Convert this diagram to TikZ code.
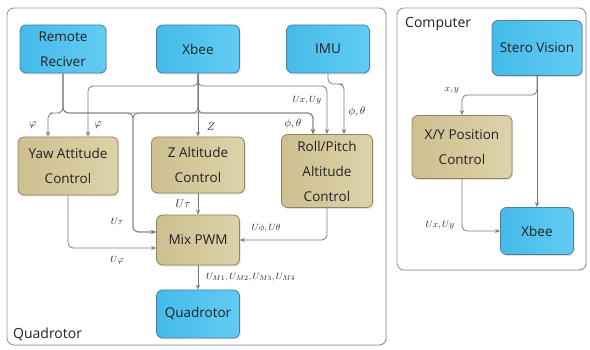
\documentclass[tikz,border=0pt]{standalone}
\usepackage{fontspec}
\setmainfont{Open Sans}
\usetikzlibrary{arrows.meta,shadows}
\definecolor{blueA}{HTML}{45BAE9}
\definecolor{blueB}{HTML}{62CCF3}
\definecolor{blueD}{HTML}{4D7F96}
\definecolor{tanA}{HTML}{CDBF90}
\definecolor{tanB}{HTML}{DDD2A9}
\definecolor{tanD}{HTML}{8E8562}
\definecolor{lineC}{HTML}{7A7A7A}
\definecolor{contC}{HTML}{9A9A9A}
\definecolor{txtC}{HTML}{222222}
\begin{document}
\begin{tikzpicture}[x=1pt,y=-1pt,
  boxtext/.style={font=\fontsize{13.5}{25}\selectfont, text=txtC, align=center, inner sep=0pt},
  bluebox/.style={boxtext, draw=blueD, line width=0.8pt, rounded corners=6pt,
    left color=blueA, right color=blueB,
    drop shadow={opacity=0.25, shadow xshift=1.2pt, shadow yshift=-1.5pt}},
  tanbox/.style={boxtext, draw=tanD, line width=0.8pt, rounded corners=6pt,
    left color=tanA, right color=tanB,
    drop shadow={opacity=0.25, shadow xshift=1.2pt, shadow yshift=-1.5pt}},
  container/.style={draw=contC, line width=0.9pt, rounded corners=7pt, fill=white,
    drop shadow={opacity=0.2, shadow xshift=1pt, shadow yshift=-1pt}},
  conlabel/.style={font=\fontsize{14}{16}\selectfont, text=txtC, inner sep=0pt},
  conn/.style={draw=lineC, line width=0.8pt, rounded corners=5pt,
    -{Stealth[length=5pt,width=4pt]}},
  lbl/.style={font=\fontsize{10.5}{11}\selectfont, text=txtC, inner sep=0pt},
  slbl/.style={font=\fontsize{9.5}{10}\selectfont, text=txtC, inner sep=0pt}]
\useasboundingbox (0,0) rectangle (590,350);

% containers
\node[container, minimum width=379pt, minimum height=337pt] (qcont) at (196.5,176.5) {};
\node[container, minimum width=189pt, minimum height=262pt] (ccont) at (491.5,139) {};
\node[conlabel, anchor=base west] (qlabel) at (13,338) {Quadrotor};
\node[conlabel, anchor=base west] (clabel) at (405,28) {Computer};

% boxes
\node[bluebox, minimum width=86pt, minimum height=48pt] (remote) at (63,49) {Remote\\Reciver};
\node[bluebox, minimum width=83pt, minimum height=48pt] (xbee1) at (198,49) {Xbee};
\node[bluebox, minimum width=83pt, minimum height=48pt] (imu) at (328,49) {IMU};
\node[tanbox, minimum width=100pt, minimum height=58pt] (yaw) at (68,166) {Yaw Attitude\\Control};
\node[tanbox, minimum width=93pt, minimum height=56pt] (zalt) at (198,165) {Z Altitude\\Control};
\node[tanbox, minimum width=91pt, minimum height=73pt] (roll) at (327,171) {Roll/Pitch\\Altitude\\Control};
\node[tanbox, minimum width=83pt, minimum height=50pt] (mix) at (198,240) {Mix PWM};
\node[bluebox, minimum width=83pt, minimum height=48pt] (quad) at (198,314) {Quadrotor};
\node[bluebox, minimum width=90pt, minimum height=55pt] (stereo) at (537,48) {Stero Vision};
\node[tanbox, minimum width=100pt, minimum height=63pt] (xy) at (462,147) {X/Y Position\\Control};
\node[bluebox, minimum width=73pt, minimum height=47pt] (xbee2) at (537,231) {Xbee};

% connectors
\draw[conn] (remote.south) |- (55,113) -| ([xshift=-20pt]yaw.north);
\draw[conn] (remote.south) |- (133,113) |- ([yshift=8pt]mix.west);
\draw[conn] (remote.south) |- (250,113) -| ([xshift=-14pt]roll.north);
\draw[conn] (xbee1.south) |- (133,113) |- ([yshift=8pt]mix.west);
\draw[conn] (xbee1.south) |- (250,113) -| ([xshift=-14pt]roll.north);
\draw[conn] (xbee1.south) |- (120,86) -| ([xshift=20pt]yaw.north);
\draw[conn] (xbee1.south) |- (300,86) -| (roll.north);
\draw[conn] (xbee1.south) -- (zalt.north);
\draw[conn] (imu.south) |- (338,84) -| ([xshift=17pt]roll.north);
\draw[conn] (yaw.south) |- ([yshift=-8pt]mix.west);
\draw[conn] (zalt.south) -- (mix.north);
\draw[conn] (roll.south) |- (mix.east);
\draw[conn] (mix.south) -- (quad.north);
\draw[conn] (stereo.south) |- (500,95) -| (xy.north);
\draw[conn] (stereo.south) -- (xbee2.north);
\draw[conn] (xy.south) |- (xbee2.west);

% labels
\node[lbl] (l1) at (33,125) {$\varphi$};
\node[lbl] (l2) at (98,125) {$\varphi$};
\node[lbl] (l3) at (211,127) {$Z$};
\node[slbl] (l4) at (307,100) {$Ux,Uy$};
\node[lbl] (l5) at (293,124) {$\phi,\theta$};
\node[lbl] (l6) at (357,112) {$\phi,\theta$};
\node[lbl] (l7) at (183,204) {$U\tau$};
\node[slbl] (l8) at (117,221) {$U\tau$};
\node[slbl] (l9) at (117,260) {$U\varphi$};
\node[slbl] (l10) at (266,228) {$U\phi,U\theta$};
\node[slbl, anchor=west] (l11) at (206,277) {$U_{M1},U_{M2},U_{M3},U_{M4}$};
\node[slbl] (l12) at (452,90) {$x,y$};
\node[slbl] (l13) at (440,225) {$Ux,Uy$};
\end{tikzpicture}
\end{document}
